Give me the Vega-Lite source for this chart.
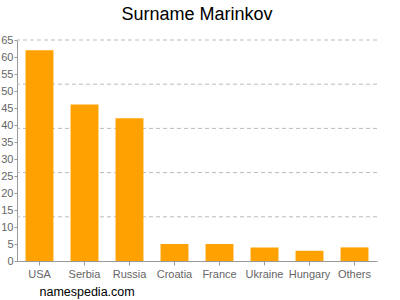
{
  "$schema": "https://vega.github.io/schema/vega-lite/v6.json",
  "width": 360,
  "height": 221,
  "autosize": {"type": "none"},
  "padding": {"left": 17, "top": 40, "right": 23, "bottom": 39},
  "background": "white",
  "title": {
    "text": "Surname Marinkov",
    "font": "Liberation Sans",
    "fontSize": 18,
    "fontWeight": "normal",
    "color": "#000000",
    "offset": 10,
    "anchor": "middle",
    "frame": "group"
  },
  "config": {
    "view": {"stroke": null},
    "axis": {
      "labelFont": "Liberation Sans",
      "labelFontSize": 11,
      "labelColor": "#666666",
      "domainColor": "#999999",
      "tickColor": "#999999"
    }
  },
  "layer": [
    {
      "data": {"values": [{"v": 13}, {"v": 26}, {"v": 39}, {"v": 52}, {"v": 65}]},
      "mark": {"type": "rule", "color": "#bbbbbb", "strokeDash": [4, 3], "strokeWidth": 1},
      "encoding": {
        "y": {
          "field": "v",
          "type": "quantitative",
          "scale": {"domain": [0, 65], "nice": false},
          "axis": {
            "values": [0, 5, 10, 15, 20, 25, 30, 35, 40, 45, 50, 55, 60, 65],
            "grid": false,
            "title": null,
            "tickSize": 3,
            "labelPadding": 1
          }
        }
      }
    },
    {
      "data": {
        "values": [
          {"country": "USA", "count": 62},
          {"country": "Serbia", "count": 46},
          {"country": "Russia", "count": 42},
          {"country": "Croatia", "count": 5},
          {"country": "France", "count": 5},
          {"country": "Ukraine", "count": 4},
          {"country": "Hungary", "count": 3},
          {"country": "Others", "count": 4}
        ]
      },
      "mark": {"type": "bar", "color": "#FFA100"},
      "encoding": {
        "x": {
          "field": "country",
          "type": "nominal",
          "sort": null,
          "scale": {"paddingInner": 0.38, "paddingOuter": 0.19},
          "axis": {
            "labelAngle": 0,
            "tickSize": 4,
            "labelPadding": 3,
            "title": "namespedia.com",
            "titleFont": "Liberation Sans",
            "titleFontSize": 12.5,
            "titleFontWeight": "normal",
            "titleColor": "#000000",
            "titleAnchor": "start",
            "titleAlign": "left",
            "titleX": 22,
            "titlePadding": 6
          }
        },
        "y": {
          "field": "count",
          "type": "quantitative",
          "scale": {"domain": [0, 65], "nice": false},
          "axis": {
            "values": [0, 5, 10, 15, 20, 25, 30, 35, 40, 45, 50, 55, 60, 65],
            "grid": false,
            "title": null,
            "tickSize": 3,
            "labelPadding": 1
          }
        }
      }
    }
  ]
}
